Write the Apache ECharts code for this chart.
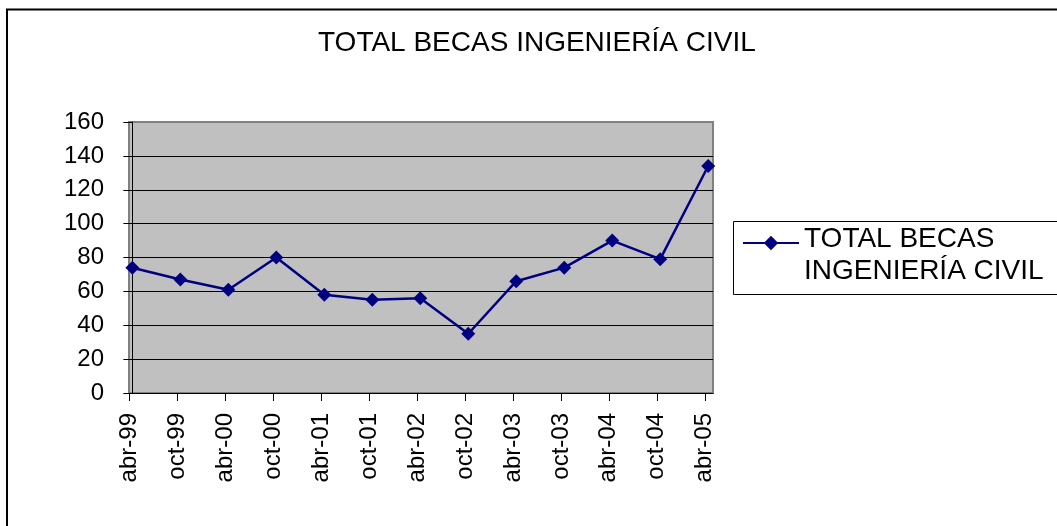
<!DOCTYPE html>
<html lang="es">
<head>
    <meta charset="UTF-8">
    <script type="text/javascript" src="https://cdn.jsdelivr.net/npm/echarts@6/dist/echarts.min.js"></script>
    <style>
        html, body { margin: 0; padding: 0; background: #fff; }
        #chart { width: 1057px; height: 526px; }
    </style>
</head>
<body>
    <div id="chart"></div>
</body>
<script>
    // datos
    var periodos = ['abr-99', 'oct-99', 'abr-00', 'oct-00', 'abr-01', 'oct-01', 'abr-02',
                    'oct-02', 'abr-03', 'oct-03', 'abr-04', 'oct-04', 'abr-05'];
    var becas = [74, 67, 61, 80, 58, 55, 56, 35, 66, 74, 90, 79, 134];
    var yTicks = [0, 20, 40, 60, 80, 100, 120, 140, 160];

    var titulo = 'TOTAL BECAS INGENIERÍA CIVIL';
    var fuente = "'Liberation Sans', Arial, sans-serif";

    // en Excel los puntos caen un poco a la derecha de las marcas (eje de fechas)
    var desfase = 0.07;
    var marcas = periodos.map(function (p, i) { return i - desfase; });
    var puntos = becas.map(function (v, i) { return [i, v]; });

    var chart = echarts.init(document.getElementById('chart'));

    var option = {
        animation: false,
        backgroundColor: '#fff',
        title: {
            text: titulo,
            left: 313,
            top: 22,
            textStyle: { fontFamily: fuente, fontSize: 28, fontWeight: 'normal', color: '#000', lineHeight: 32 }
        },
        graphic: [
            {   // marco exterior
                type: 'rect', z: -10, silent: true,
                shape: { x: 7, y: 9.5, width: 1100, height: 560 },
                style: { fill: null, stroke: '#000', lineWidth: 2 }
            },
            {   // caja de la leyenda
                type: 'rect', z: -5, silent: true,
                shape: { x: 733.5, y: 221.5, width: 400, height: 73 },
                style: { fill: '#fff', stroke: '#000', lineWidth: 1 }
            }
        ],
        legend: {
            left: 742,
            top: 206,
            padding: 0,
            itemWidth: 56,
            itemHeight: 18,
            // linea vacia arriba para bajar el texto respecto al icono
            formatter: function () { return '{s| }\n{a|TOTAL BECAS}\n{a|INGENIERÍA CIVIL}'; },
            textStyle: {
                fontFamily: fuente, fontSize: 28, color: '#000',
                rich: {
                    s: { fontSize: 10, lineHeight: 25 },
                    a: { fontFamily: fuente, fontSize: 28, color: '#000', lineHeight: 32 }
                }
            }
        },
        grid: {
            left: 129, right: 344, top: 122, bottom: 133,
            show: true,
            backgroundColor: '#c0c0c0',
            borderColor: '#808080',
            borderWidth: 2
        },
        xAxis: {
            type: 'value',
            min: -desfase,
            max: 12.1,
            axisLine: { show: true, onZero: false, lineStyle: { color: '#000', width: 1 } },
            axisTick: { show: true, length: 8, customValues: marcas, lineStyle: { color: '#000' } },
            splitLine: { show: false },
            axisLabel: {
                customValues: marcas,
                rotate: 90,
                margin: 20,
                fontFamily: fuente,
                fontSize: 24,
                color: '#000',
                formatter: function (v) { return periodos[Math.round(v + desfase)]; }
            }
        },
        yAxis: {
            type: 'value',
            min: yTicks[0],
            max: yTicks[yTicks.length - 1],
            interval: yTicks[1] - yTicks[0],
            axisLine: { show: true, lineStyle: { color: '#000', width: 1 } },
            axisTick: { show: true, length: 9, lineStyle: { color: '#000' } },
            splitLine: { show: true, showMaxLine: false, showMinLine: false, lineStyle: { color: '#000', width: 1 } },
            axisLabel: { margin: 25, fontFamily: fuente, fontSize: 24, color: '#000' }
        },
        series: [{
            name: titulo,
            type: 'line',
            data: puntos,
            symbol: 'diamond',
            symbolSize: 14,
            lineStyle: { color: '#000080', width: 2.5 },
            itemStyle: { color: '#000080' }
        }]
    };

    chart.setOption(option);
</script>
</html>
